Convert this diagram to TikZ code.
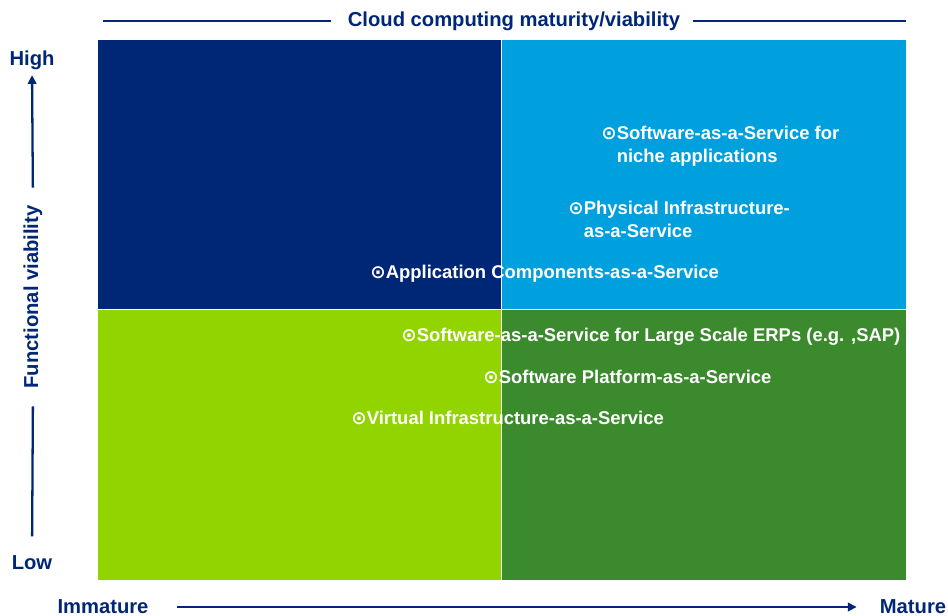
\documentclass[tikz,border=0pt]{standalone}
\usepackage{fontspec}
\setmainfont{Liberation Sans}
\newfontfamily\symfont{DejaVu Sans}
\usetikzlibrary{positioning}
\usetikzlibrary{arrows.meta}
\definecolor{navy}{RGB}{0,39,118}
\definecolor{skyblue}{RGB}{0,160,223}
\definecolor{lime}{RGB}{146,212,0}
\definecolor{leaf}{RGB}{60,138,46}
\newcommand{\bul}{{\symfont ⊙}}

\begin{document}
\begin{tikzpicture}[x=0.02cm,y=-0.02cm,
  quad/.style={draw=white,line width=0.4pt},
  lbl/.style={inner sep=0,text=navy,font=\fontsize{11.5}{13}\selectfont\bfseries},
  item/.style={inner sep=0,anchor=base west,text=white,align=left,font=\fontsize{10.5}{13}\selectfont\bfseries},
  axis/.style={navy,line width=1.3pt},
  >={Triangle[length=5pt,width=4.8pt]}]
\useasboundingbox (0,0) rectangle (948,616);
\fill[white] (0,0) rectangle (948,616);
\draw[quad,fill=navy] (97,39) rectangle (501,309);
\draw[quad,fill=skyblue] (501,39) rectangle (906,309);
\draw[quad,fill=lime] (97,309) rectangle (501,580);
\draw[quad,fill=leaf] (501,309) rectangle (906,580);

\node[lbl] (title) at (514,21) {Cloud computing maturity/viability};
\coordinate (tl) at (103,21);
\coordinate (tr) at (906,21);
\draw[axis,shorten >=9.5pt] (tl) -- (title.west);
\draw[axis,shorten >=7.4pt] (tr) -- (title.east);

\node[lbl] (high) at (32,60) {High};
\node[lbl] (low) at (32,563) {Low};
\node[lbl,rotate=90] (fv) at (33,297) {Functional viability};
\draw[axis,shorten <=11pt,shorten >=10pt] (low.north) -- (fv.west);
\draw[axis,->,shorten <=10pt,shorten >=3pt] (fv.east) -- (high.south);

\node[lbl] (immature) at (103,607) {Immature};
\node[lbl] (mature) at (913,607) {Mature};
\draw[axis,->,shorten <=16pt,shorten >=13pt] (immature.east) -- (mature.west);

\node[item] (saasniche) at (601,162) {\bul Software-as-a-Service for\\\phantom{\bul}niche applications};
\node[item] (piaas) at (568,237) {\bul Physical Infrastructure-\\\phantom{\bul}as-a-Service};
\node[item] (acaas) at (370,278) {\bul Application Components-as-a-Service};
\node[item] (saaserp) at (401,341) {\bul Software-as-a-Service for Large Scale ERPs (e.g. ,SAP)};
\node[item] (spaas) at (483,383) {\bul Software Platform-as-a-Service};
\node[item] (viaas) at (351,424) {\bul Virtual Infrastructure-as-a-Service};
\end{tikzpicture}
\end{document}
